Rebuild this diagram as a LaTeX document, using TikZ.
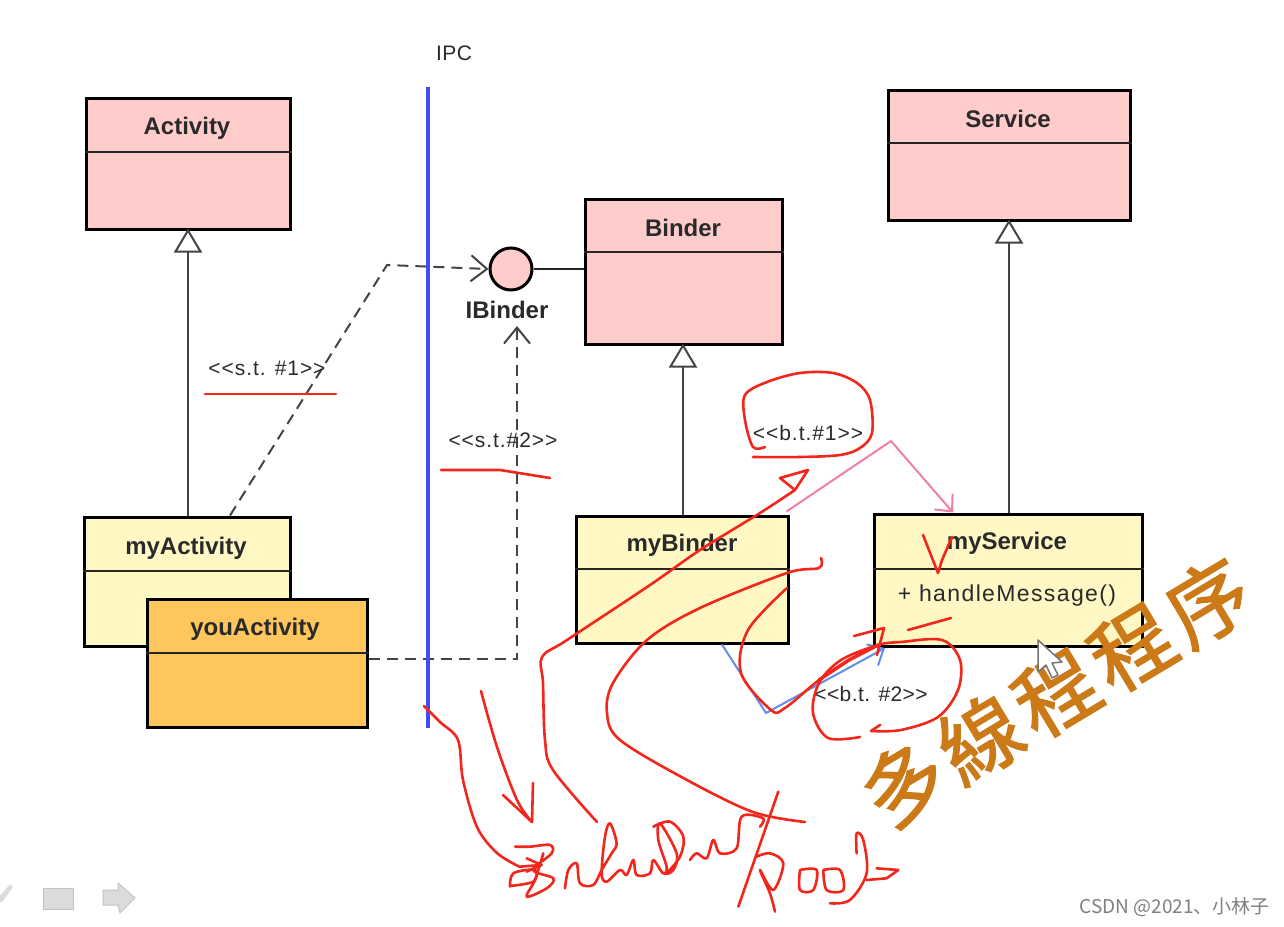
\documentclass[tikz,border=0pt]{standalone}
\usepackage{fontspec}
\setmainfont{Liberation Sans}
\newfontfamily\cjkthick[FakeBold=1.6]{Noto Sans CJK TC}
\newfontfamily\cjksc{Noto Sans CJK SC}
\usetikzlibrary{arrows.meta,calc}
\definecolor{umlpink}{HTML}{FFCCCC}
\definecolor{umlyellow}{HTML}{FFF7C4}
\definecolor{umlorange}{HTML}{FFC65E}
\definecolor{ink}{HTML}{F2261A}
\definecolor{linegrey}{HTML}{444444}
\definecolor{textgrey}{HTML}{2A2A2A}
\definecolor{ipcblue}{HTML}{3F4DF0}
\definecolor{pinkline}{HTML}{F07FA0}
\definecolor{blueline}{HTML}{5F8FEF}
\definecolor{handorange}{HTML}{CB7A17}
\tikzset{
  x=1pt,y=-1pt,
  classbox/.style={draw=black,line width=3pt,rectangle,inner sep=0pt},
  titletext/.style={font=\fontsize{24}{26}\selectfont\bfseries,text=textgrey,inner sep=1pt},
  divider/.style={draw=black!85,line width=1.6pt},
  inherit/.style={draw=linegrey,line width=2pt,shorten >=-2pt,-{Triangle[open,length=24pt,width=28pt,fill=white,line width=2pt]}},
  depends/.style={draw=linegrey,line width=2pt,dash pattern=on 11pt off 7pt,-{Straight Barb[length=16pt,width=26pt,line width=2pt]}},
  notelabel/.style={font=\fontsize{21}{23}\selectfont\addfontfeature{LetterSpace=4.5},text=textgrey,inner sep=1pt},
  notelabelb/.style={font=\fontsize{21}{23}\selectfont\addfontfeature{LetterSpace=2},text=textgrey,inner sep=1pt},
  inkline/.style={draw=ink,line width=2.6pt,line cap=round,line join=round},
  inkcurve/.style={inkline,smooth,tension=0.55},
  thinarrow/.style={line width=2pt,line join=round,-{Straight Barb[length=13pt,width=24pt,line width=2pt]}},
  iconshade/.style={fill=black!14,draw=black!24,line width=1pt}
}
\begin{document}
\begin{tikzpicture}
\useasboundingbox (0,0) rectangle (1284,926);
\fill[white] (0,0) rectangle (1284,926);

% IPC line
\node[notelabelb] (ipc) at (454,53) {IPC};
\coordinate (ipctop) at (428,87);
\coordinate (ipcbot) at (428,728);

% class boxes
\node[classbox,fill=umlpink,minimum width=204pt,minimum height=131pt] (activity) at (188,163.5) {};
\node[titletext] (activityt) at (187,128) {Activity};
\draw[divider] (activity.west |- 0,152) -- (activity.east |- 0,152);

\node[classbox,fill=umlpink,minimum width=242pt,minimum height=130pt] (service) at (1009,155) {};
\node[titletext] (servicet) at (1008,119) {Service};
\draw[divider] (service.west |- 0,143) -- (service.east |- 0,143);

\node[classbox,fill=umlpink,minimum width=197pt,minimum height=145pt] (binder) at (683.5,271.5) {};
\node[titletext] (bindert) at (683,228) {Binder};
\draw[divider] (binder.west |- 0,252) -- (binder.east |- 0,252);

\node[classbox,fill=umlyellow,minimum width=206pt,minimum height=129pt] (myactivity) at (187,581.5) {};
\node[titletext] (myactivityt) at (186,548) {myActivity};
\draw[divider] (myactivity.west |- 0,571) -- (myactivity.east |- 0,571);

\node[classbox,fill=umlorange,minimum width=220pt,minimum height=128pt] (youactivity) at (257,663) {};
\node[titletext] (youactivityt) at (255,629) {youActivity};
\draw[divider] (youactivity.west |- 0,653) -- (youactivity.east |- 0,653);

\node[classbox,fill=umlyellow,minimum width=212pt,minimum height=127pt] (mybinder) at (682,579.5) {};
\node[titletext] (mybindert) at (682,545) {myBinder};
\draw[divider] (mybinder.west |- 0,569) -- (mybinder.east |- 0,569);

\node[classbox,fill=umlyellow,minimum width=268pt,minimum height=132pt] (myservice) at (1008,580) {};
\node[titletext] (myservicet) at (1007,543) {myService};
\draw[divider] (myservice.west |- 0,569) -- (myservice.east |- 0,569);
\node[font=\fontsize{23}{25}\selectfont\addfontfeature{LetterSpace=6},text=textgrey,inner sep=1pt] (handle) at (1007,596) {+ handleMessage()};

% interface
\node[circle,draw=black,line width=3pt,fill=umlpink,minimum size=42pt,inner sep=0pt] (ibinder) at (511,269) {};
\node[titletext] (ibinderl) at (507,310) {IBinder};
\draw[draw=black!85,line width=2pt] (ibinder.east) -- (binder.west |- ibinder.east);

% inheritance
\draw[inherit] (myactivity.north -| 188,0) -- (activity.south -| 188,0);
\draw[inherit] (mybinder.north -| 683,0) -- (binder.south -| 683,0);
\draw[inherit] (myservice.north -| 1009,0) -- (service.south -| 1009,0);

% dashed dependencies
\coordinate (bendone) at (387,265);
\coordinate (bendtwo) at (517,659);
\draw[depends] (myactivity.north -| 230,0) -- (bendone) -- (ibinder.west);
\draw[depends,shorten >=6pt] (youactivity.east |- bendtwo) -- (bendtwo) -- (ibinderl.south -| 517,0);

% IPC blue line
\draw[draw=ipcblue,line width=4.5pt] (ipctop) -- (ipcbot);

% stereotype labels
\node[notelabel] (st1) at (267,368) {<{}<s.t. \#1>{}>};
\node[notelabel] (st2) at (503,440) {<{}<s.t.\#2>{}>};
\node[notelabel] (bt1) at (808,433) {<{}<b.t.\#1>{}>};
\node[notelabelb] (bt2) at (871,694) {<{}<b.t. \#2>{}>};

% message arrows
\coordinate (pinkbend) at (891,441);
\coordinate (bluebend) at (766,713);
\draw[thinarrow,draw=pinkline] (mybinder.north east) ++(-3,-3) -- (pinkbend) -- (myservice.north -| 953,0);
\draw[thinarrow,draw=blueline] (mybinder.south -| 722,0) -- (bluebend) -- (885,648);

% underlines
\draw[inkline] (205,394) -- (336,394);
\draw[inkline] (441,470) -- (500,470) -- (550,478);

% red ink: strokes
\draw[inkcurve] plot coordinates {(424,706) (440,722) (458,740) (463,780) (477,827) (497,853) (520,867)};
\draw[inkcurve] plot coordinates {(481,691) (497,747) (517,800) (532,822)};
\draw[inkline] (503,795) -- (532,822) -- (533,783);
\draw[inkcurve] plot coordinates {(597,822) (553,770) (545,740) (543,683) (542,657) (567,640) (650,585) (700,550) (760,513) (795,490)};
\draw[inkline] (795,490) -- (780,478) -- (808,470) -- (795,490);
\draw[inkcurve] plot coordinates {(805,822) (753,812) (687,780) (620,740) (607,713) (613,683) (647,640) (700,608) (787,573) (819,568) (821,558)};
\draw[inkcurve] plot coordinates {(787,588) (748,630) (741,673) (771,710) (785,708) (819,680) (849,660) (878,645)};
\draw[inkline,line width=3.4pt] (819,680) -- (849,660) -- (878,645);
\draw[inkline] (854,636) -- (884,628) -- (877,655);
\draw[inkline] (908,630) -- (951,618);
\draw[inkcurve] plot coordinates {(860,737) (828,738) (813,713) (819,683) (841,660) (878,645) (901,642) (942,640) (960,660) (958,690) (938,717) (901,730) (871,731)};
\draw[inkline] (871,731) -- (880,725);
\draw[inkcurve] plot coordinates {(765,447) (753,447) (745,420) (745,395) (767,382) (800,373) (833,373) (857,383) (870,400) (872,433) (860,448) (840,455) (800,457) (753,457)};
\draw[inkline] (923,535) -- (938,573) -- (942,560) -- (952,537);

% red ink: handwriting, in the crop's own units
\begin{scope}[shift={(420,640)},x=0.3333pt,y=-0.3333pt]
\draw[inkline] (300,680) -- (365,675) (320,655) -- (365,675) -- (320,695);
\draw[inkcurve] plot coordinates {(285,620) (330,620) (390,615) (395,640) (340,690) (400,715) (380,745) (320,770) (345,720) (370,640)};
\draw[inkcurve] plot coordinates {(270,740) (280,700) (345,690) (340,725) (270,738)};
\draw[inkcurve] plot coordinates {(435,745) (445,690) (470,670) (480,730) (520,735) (545,690) (575,640) (590,610) (570,550) (555,590) (545,700) (560,725) (600,690) (620,705) (640,660) (650,705) (690,700) (700,660) (730,700) (760,690) (770,640) (720,550) (715,600) (740,680) (735,700)};
\draw[inkcurve] plot coordinates {(700,560) (750,545) (790,590) (780,650) (740,700)};
\draw[inkcurve] plot coordinates {(810,660) (830,640) (860,655) (880,600) (900,640) (950,625) (965,530) (1030,535) (1020,560)};
\draw[inkline] (1075,455) -- (955,800);
\draw[inkcurve] plot coordinates {(1010,650) (1050,640) (1090,670) (1060,750) (1020,690) (1050,760) (1065,815)};
\draw[inkcurve] plot coordinates {(1140,690) (1190,690) (1180,750) (1140,750) (1140,690)};
\draw[inkcurve] plot coordinates {(1210,690) (1260,690) (1270,750) (1220,750) (1210,690)};
\draw[inkcurve] plot coordinates {(1230,790) (1290,780) (1340,700) (1330,600) (1310,580) (1310,640)};
\draw[inkline] (1340,720) -- (1400,715) -- (1435,690) -- (1370,685);
\end{scope}

% orange handwriting-style text
\node[font=\cjkthick\fontsize{82}{84}\selectfont\addfontfeature{LetterSpace=8},text=handorange,rotate=31,inner sep=0pt] (multi) at (1056,693) {多線程程序};

% mouse cursor
\node[inner sep=0pt,minimum size=1pt] (cursor) at (1038,640) {};
\draw[fill=white,draw=black!55,line width=1.5pt,line join=round] (cursor.center) -- ++(0,32) -- ++(8,-7) -- ++(6,13) -- ++(6,-3) -- ++(-6,-12) -- ++(10,-1) -- cycle;

% toolbar icons
\fill[iconshade,draw=none] (0,896) -- (10,884) -- (13,887) -- (2,902) -- (0,902) -- cycle;
\node[iconshade,minimum width=30pt,minimum height=21pt,inner sep=0pt] (iconrect) at (58,898.5) {};
\path[iconshade] (103,890) -- (118,890) -- (118,883) -- (135,898) -- (120,913) -- (118,905) -- (103,905) -- cycle;

% watermark
\node[font=\cjksc\fontsize{19}{21}\selectfont,text=black!50,anchor=east,inner sep=0pt] (mark) at (1270,907) {CSDN @2021、小林子};
\end{tikzpicture}
\end{document}
